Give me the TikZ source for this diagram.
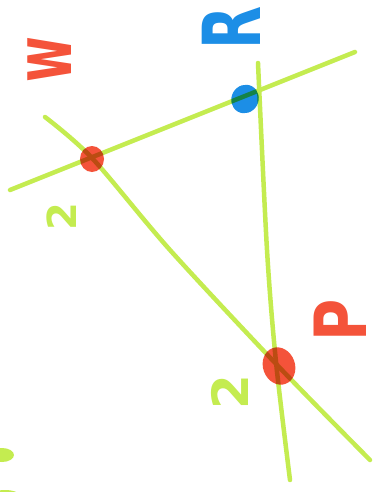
\documentclass[tikz,border=0pt]{standalone}
\usepackage{fontspec}
\setmainfont{DejaVu Sans}
\usetikzlibrary{shapes.geometric}
\definecolor{lime}{HTML}{C4EC50}
\definecolor{mred}{HTML}{F4533A}
\definecolor{mblue}{HTML}{1C8EE6}
\tikzset{
  gline/.style={draw=lime, line width=4.5pt, line cap=round, line join=round},
  dotmark/.style={ellipse, inner sep=0pt, draw=none, blend mode=multiply},
  biglabel/.style={inner sep=0pt, rotate=90, font=\bfseries\fontsize{80}{80}\selectfont},
  twolabel/.style={inner sep=0pt, rotate=90, text=lime, font=\bfseries\fontsize{40}{40}\selectfont},
}
\begin{document}
\begin{tikzpicture}[x=1pt,y=-1pt]
\useasboundingbox[fill=white] (0,0) rectangle (382,492);
% coordinates
\coordinate (a1) at (10,190);
\coordinate (a2) at (355,52);
% lines
\draw[gline] (a1) -- (a2);
\draw[gline] plot[smooth, tension=0.5] coordinates {(45,117) (92,158) (170,250) (279,367) (370,460)};
\draw[gline] plot[smooth, tension=0.5] coordinates {(258,63) (267,250) (276,362) (290,480)};
% dots
\node[dotmark, fill=mred, minimum width=24pt, minimum height=26pt] (Q) at (92,159) {};
\node[dotmark, fill=mblue, minimum width=27pt, minimum height=29pt, rotate=-30] (R) at (245,99) {};
\node[dotmark, fill=mred, minimum width=32pt, minimum height=38pt, rotate=20] (P) at (279,366) {};
% labels
\node[biglabel, text=mblue] (Rl) at (231,28) {\scalebox{0.7}[1]{R}};
\node[biglabel, text=mred] (Ql) at (50,60) {\scalebox{0.62}[1]{w}};
\node[biglabel, text=mred, scale=0.9] (Pl) at (340,320) {\scalebox{0.8}[1]{P}};
\node[twolabel] (t1) at (62,217) {2};
\node[twolabel, scale=1.25] (t2) at (230,392) {2};
% edge blobs
\fill[lime] (2,455) ellipse [x radius=12, y radius=7];
\fill[lime] (5,496) ellipse [x radius=15, y radius=6];
\end{tikzpicture}
\end{document}
